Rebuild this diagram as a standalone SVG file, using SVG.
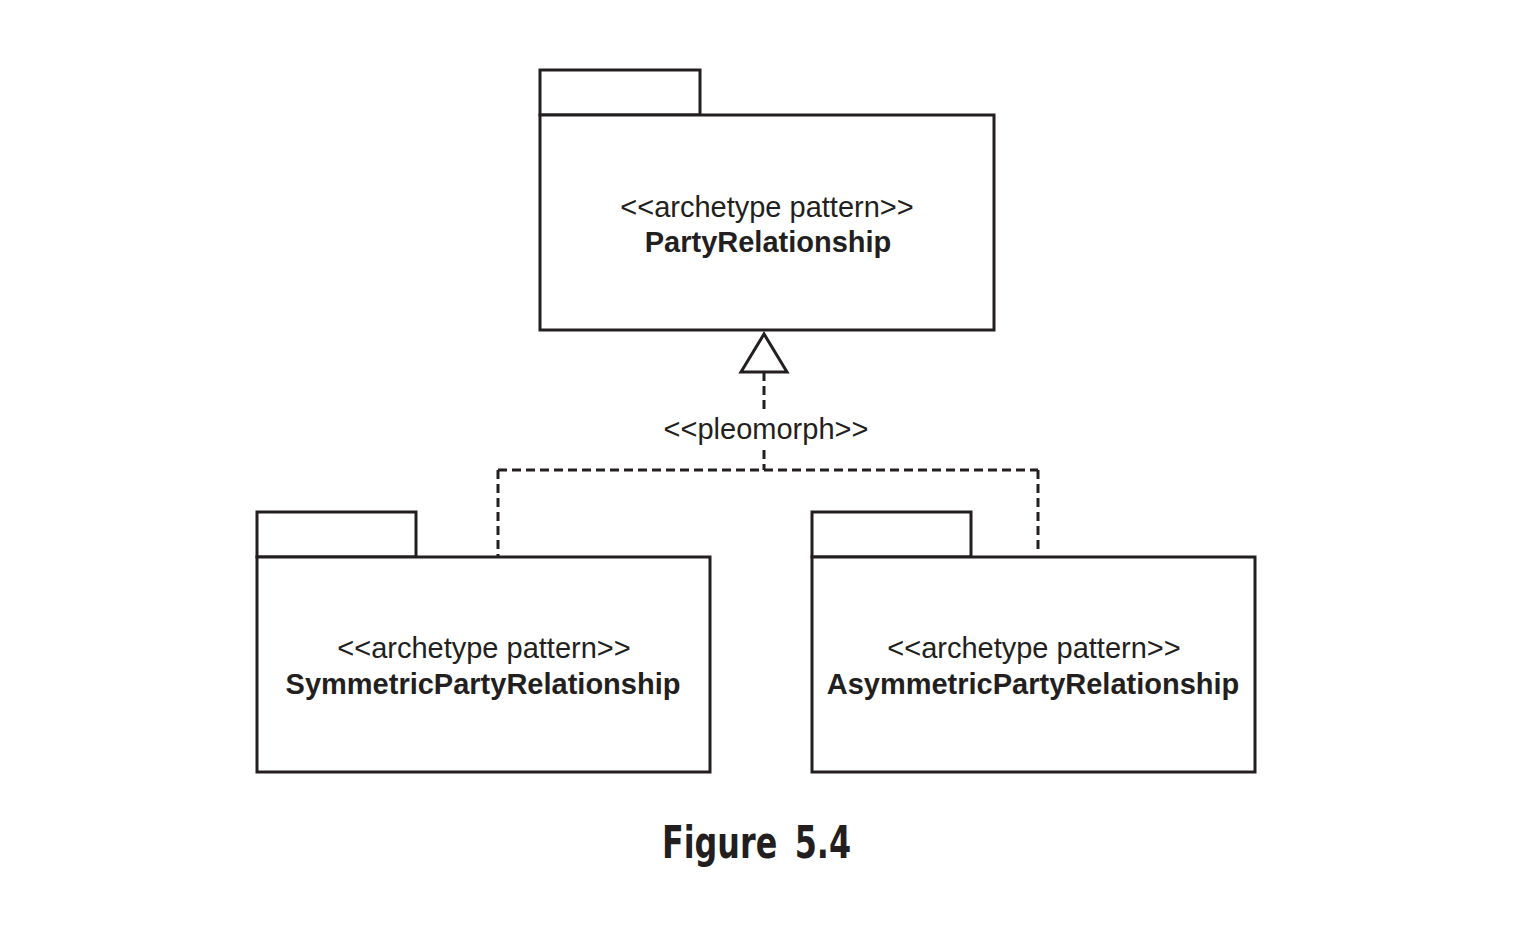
<svg xmlns="http://www.w3.org/2000/svg" width="1524" height="926" viewBox="0 0 1524 926">
<style>
.box{fill:#fff;stroke:#231f20;stroke-width:3}
.st{font-family:"Liberation Sans",Arial,sans-serif;font-size:29px;fill:#231f20;text-anchor:middle}
.nm{font-family:"Liberation Sans",Arial,sans-serif;font-size:29px;font-weight:bold;fill:#231f20;text-anchor:middle}
.dash{fill:none;stroke:#231f20;stroke-width:3;stroke-dasharray:9 5}
.fig{font-family:"DejaVu Sans Condensed","DejaVu Sans",sans-serif;font-weight:bold;font-size:44px;fill:#231f20;word-spacing:8px}
</style>
<rect width="1524" height="926" fill="#fff"/>
<g id="connectors">
<path class="dash" d="M764,372 V410"/>
<path class="dash" d="M764,450 V470"/>
<path class="dash" d="M498,470 H1038"/>
<path class="dash" d="M498,470 V557"/>
<path class="dash" d="M1038,470 V550"/>
<polygon points="764,334 741,372 787,372" fill="#fff" stroke="#231f20" stroke-width="3"/>
<text class="st" x="766" y="439">&lt;&lt;pleomorph&gt;&gt;</text>
</g>
<g id="party-relationship">
<rect class="box" x="540" y="70" width="160" height="45"/>
<rect class="box" x="540" y="115" width="454" height="215"/>
<text class="st" x="767" y="217">&lt;&lt;archetype pattern&gt;&gt;</text>
<text class="nm" x="768" y="252">PartyRelationship</text>
</g>
<g id="symmetric-party-relationship">
<rect class="box" x="257" y="512" width="159" height="45"/>
<rect class="box" x="257" y="557" width="453" height="215"/>
<text class="st" x="484" y="658">&lt;&lt;archetype pattern&gt;&gt;</text>
<text class="nm" x="483" y="694">SymmetricPartyRelationship</text>
</g>
<g id="asymmetric-party-relationship">
<rect class="box" x="812" y="512" width="159" height="45"/>
<rect class="box" x="812" y="557" width="443" height="215"/>
<text class="st" x="1034" y="658">&lt;&lt;archetype pattern&gt;&gt;</text>
<text class="nm" x="1033" y="694">AsymmetricPartyRelationship</text>
</g>
<g id="caption">
<text class="fig" x="662" y="858" textLength="189" lengthAdjust="spacingAndGlyphs">Figure 5.4</text>
</g>
</svg>
